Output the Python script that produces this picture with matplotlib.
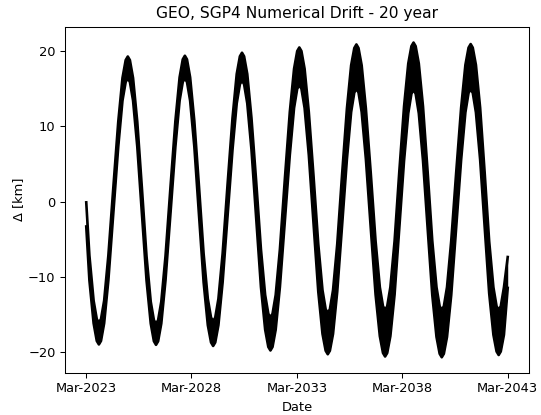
import datetime as dt
import numpy as np
import matplotlib
matplotlib.use("Agg")
import matplotlib.pyplot as plt

## GEO SGP4 drift over 20 years.
## t_year : decimal year of each sample
## delta_mid : centre of the short-period band [km]
## delta_half : half height of the short-period band [km]
t_year = [
    2023.17, 2023.32, 2023.52, 2023.67, 2023.77, 2023.87, 2024.02, 2024.22, 2024.455,
    2024.69, 2024.89, 2025.04, 2025.14, 2025.24, 2025.39, 2025.59, 2025.81,
    2026.03, 2026.23, 2026.38, 2026.48, 2026.58, 2026.73, 2026.93, 2027.165,
    2027.40, 2027.60, 2027.75, 2027.85, 2027.95, 2028.10, 2028.30, 2028.52,
    2028.74, 2028.94, 2029.09, 2029.19, 2029.29, 2029.44, 2029.64, 2029.875,
    2030.11, 2030.31, 2030.46, 2030.56, 2030.66, 2030.81, 2031.01, 2031.235,
    2031.46, 2031.66, 2031.81, 2031.91, 2032.01, 2032.16, 2032.36, 2032.595,
    2032.83, 2033.03, 2033.18, 2033.28, 2033.38, 2033.53, 2033.73, 2033.955,
    2034.18, 2034.38, 2034.53, 2034.63, 2034.73, 2034.88, 2035.08, 2035.31,
    2035.54, 2035.74, 2035.89, 2035.99, 2036.09, 2036.24, 2036.44, 2036.67,
    2036.90, 2037.10, 2037.25, 2037.35, 2037.45, 2037.60, 2037.80, 2038.025,
    2038.25, 2038.45, 2038.60, 2038.70, 2038.80, 2038.95, 2039.15, 2039.37,
    2039.59, 2039.79, 2039.94, 2040.04, 2040.14, 2040.29, 2040.49, 2040.725,
    2040.96, 2041.16, 2041.31, 2041.41, 2041.51, 2041.66, 2041.86, 2042.075,
    2042.29, 2042.49, 2042.64, 2042.74, 2042.84, 2042.99, 2043.17,
]
delta_mid = [
    -1.7, -8.8, -14.65, -17.03, -17.5, -17.03, -14.65, -8.8, 0.15,
    8.95, 14.9, 17.32, 17.8, 17.32, 14.9, 8.95, 0.1,
    -8.85, -14.73, -17.12, -17.6, -17.12, -14.73, -8.85, 0.1,
    8.98, 14.94, 17.37, 17.85, 17.37, 14.94, 8.98, 0.15,
    -8.8, -14.65, -17.03, -17.5, -17.03, -14.65, -8.8, 0.2,
    9.0, 14.98, 17.42, 17.9, 17.42, 14.98, 9.0, 0.2,
    -8.83, -14.69, -17.08, -17.55, -17.08, -14.69, -8.83, 0.2,
    9.03, 15.02, 17.47, 17.95, 17.47, 15.02, 9.03, 0.2,
    -8.8, -14.65, -17.03, -17.5, -17.03, -14.65, -8.8, 0.2,
    9.0, 14.98, 17.42, 17.9, 17.42, 14.98, 9.0, 0.2,
    -8.78, -14.6, -16.98, -17.45, -16.98, -14.6, -8.78, 0.25,
    9.03, 15.02, 17.47, 17.95, 17.47, 15.02, 9.03, 0.2,
    -8.8, -14.65, -17.03, -17.5, -17.03, -14.65, -8.8, 0.2,
    9.0, 14.98, 17.42, 17.9, 17.42, 14.98, 9.0, 0.25,
    -8.73, -14.52, -16.88, -17.35, -16.88, -14.52, -9.4,
]
delta_half = [
    1.6, 1.65, 1.5, 1.45, 1.45, 1.45, 1.5, 1.65, 1.7,
    1.65, 1.5, 1.45, 1.45, 1.45, 1.5, 1.65, 1.7,
    1.6, 1.45, 1.4, 1.4, 1.4, 1.45, 1.6, 1.75,
    1.7, 1.55, 1.5, 1.5, 1.5, 1.55, 1.7, 1.9,
    1.9, 1.75, 1.65, 1.65, 1.65, 1.75, 1.9, 2.1,
    2.1, 1.95, 1.85, 1.85, 1.85, 1.95, 2.1, 2.45,
    2.5, 2.3, 2.2, 2.2, 2.2, 2.3, 2.5, 2.8,
    2.85, 2.6, 2.5, 2.5, 2.5, 2.6, 2.85, 3.15,
    3.15, 2.9, 2.75, 2.75, 2.75, 2.9, 3.15, 3.4,
    3.35, 3.1, 2.95, 2.95, 2.95, 3.1, 3.35, 3.65,
    3.55, 3.25, 3.1, 3.1, 3.1, 3.25, 3.55, 3.75,
    3.6, 3.3, 3.15, 3.15, 3.15, 3.3, 3.6, 3.75,
    3.6, 3.3, 3.15, 3.15, 3.15, 3.3, 3.6, 3.65,
    3.45, 3.15, 3.0, 3.0, 3.0, 3.15, 3.45, 3.6,
    3.45, 3.15, 3.0, 3.0, 3.0, 3.15, 2.05,
]

tick_dates = [dt.datetime(2023, 3, 1), dt.datetime(2028, 3, 1), dt.datetime(2033, 3, 1),
              dt.datetime(2038, 3, 1), dt.datetime(2043, 3, 1)]
tick_labels = ["Mar-2023", "Mar-2028", "Mar-2033", "Mar-2038", "Mar-2043"]


def yr_to_date(y):
    yr = int(y)
    return dt.datetime(yr, 1, 1) + dt.timedelta(days=(y - yr) * 365.25)


dates = [yr_to_date(y) for y in t_year]
mid = np.array(delta_mid)
half = np.array(delta_half)
upper = mid + half
lower = mid - half

plt.rcParams['font.size'] = 9.4

fig = plt.figure(figsize=(5.41, 4.15), dpi=100)
ax = fig.add_axes([0.1201, 0.1019, 0.8577, 0.8337])

ax.fill_between(dates, lower, upper, color='k', lw=0)
ax.plot(dates, upper, color='k', lw=1.9)
ax.plot(dates, lower, color='k', lw=1.9)

ax.set_xticks(tick_dates)
ax.set_xticklabels(tick_labels)
ax.set_xlim(yr_to_date(2022.16), yr_to_date(2044.18))
ax.set_ylim(-22.7, 23.2)
ax.set_yticks([-20, -10, 0, 10, 20])

for s in ['top', 'bottom', 'left', 'right']:
    ax.spines[s].set_linewidth(0.75)
ax.tick_params(length=3.3, width=0.75)

ax.set_xlabel("Date")
ax.set_ylabel("Δ [km]", labelpad=2)
ax.set_title("GEO, SGP4 Numerical Drift - 20 year", fontsize=11.2)

fig.savefig("out.png", dpi=100)
